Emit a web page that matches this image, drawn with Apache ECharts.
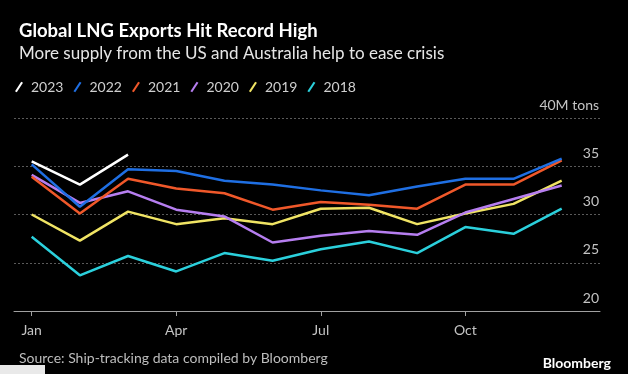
<!DOCTYPE html>
<html>
<head>
<meta charset="utf-8">
<script src="https://cdn.jsdelivr.net/npm/echarts@6/dist/echarts.min.js"></script>
<style>
html,body{margin:0;padding:0;background:#000;}
#c{width:628px;height:374px;}
</style>
</head>
<body>
<div id="c"></div>
<script>
const months = ['Jan','Feb','Mar','Apr','May','Jun','Jul','Aug','Sep','Oct','Nov','Dec'];
const xTickMonths = [0, 3, 6, 9];
const yTicks = [20, 25, 30, 35, 40];
const years = ['2023','2022','2021','2020','2019','2018'];
const s2023 = [35.5, 33.1, 36.2];
const s2022 = [35.2, 30.8, 34.7, 34.5, 33.5, 33.1, 32.5, 32.0, 32.9, 33.7, 33.7, 35.8];
const s2021 = [33.9, 30.1, 33.7, 32.7, 32.2, 30.5, 31.3, 31.0, 30.6, 33.1, 33.1, 35.6];
const s2020 = [34.1, 31.2, 32.4, 30.5, 29.8, 27.1, 27.8, 28.3, 27.9, 30.2, 31.6, 33.0];
const s2019 = [30.0, 27.3, 30.3, 29.0, 29.6, 29.0, 30.6, 30.7, 29.0, 30.1, 31.1, 33.5];
const s2018 = [27.7, 23.7, 25.7, 24.1, 26.0, 25.2, 26.4, 27.2, 26.0, 28.7, 28.0, 30.6];
const seriesValues = [s2023, s2022, s2021, s2020, s2019, s2018];
const colors = ['#ffffff', '#1f6fe3', '#f0582a', '#b67ef0', '#f0e464', '#2bd0dc'];

const chart = echarts.init(document.getElementById('c'));
const FONT = 'Lato';
chart.setOption({
  backgroundColor: '#000',
  animation: false,
  title: [
    {text: 'Global LNG Exports Hit Record High', left: 14, top: 17,
     textStyle: {color: '#fff', fontFamily: FONT, fontWeight: 'bold', fontSize: 18.5}},
    {text: 'More supply from the US and Australia help to ease crisis', left: 14, top: 40,
     textStyle: {color: '#e6e6e6', fontFamily: FONT, fontWeight: 'normal', fontSize: 17}},
    {text: 'Source: Ship-tracking data compiled by Bloomberg', left: 14, top: 346,
     textStyle: {color: '#bdbdbd', fontFamily: FONT, fontWeight: 'normal', fontSize: 14}},
    {text: 'Bloomberg', right: 12, top: 351,
     textStyle: {color: '#fff', fontFamily: FONT, fontWeight: 'bold', fontSize: 14}}
  ],
  legend: {
    left: 10, top: 75,
    data: years,
    icon: 'path://M7,0 L9,1.2 L2,12 L0,10.8 Z',
    itemWidth: 8, itemHeight: 11, itemGap: 10,
    textStyle: {color: '#cfcfcf', fontFamily: FONT, fontSize: 14, padding: [0, 0, 0, 3]}
  },
  grid: {left: 14, right: 28, top: 118, bottom: 63, containLabel: false},
  xAxis: {
    type: 'value', min: -0.367, max: 11.795,
    axisLine: {show: true, onZero: false, lineStyle: {color: '#a0a0a0', width: 1}},
    axisTick: {show: true, customValues: xTickMonths, length: 5, lineStyle: {color: '#a0a0a0'}},
    axisLabel: {customValues: xTickMonths, formatter: v => months[Math.round(v)],
      color: '#c4c4c4', fontFamily: FONT, fontSize: 14, margin: 12},
    splitLine: {show: false}
  },
  yAxis: {
    type: 'value', position: 'right', min: 20, max: 40, interval: 5,
    axisLine: {show: false}, axisTick: {show: false},
    axisLabel: {inside: true, margin: 1, color: '#c4c4c4', fontFamily: FONT, fontSize: 14,
      verticalAlign: 'bottom', padding: [0, 0, 6, 0],
      formatter: v => v === 40 ? '40M tons' : String(v)},
    splitLine: {show: true, lineStyle: {color: '#5a5a5a', type: [2, 2], width: 1}}
  },
  series: years.map((y, i) => ({
    name: y, type: 'line', z: 10 - i,
    data: seriesValues[i].map((v, m) => [m, v]),
    symbol: 'none',
    color: colors[i],
    itemStyle: {color: colors[i]},
    lineStyle: {color: colors[i], width: 2.5}
  })),
  graphic: [
    {type: 'rect', left: 0, top: 365, shape: {width: 45, height: 9}, style: {fill: '#e9e9e9'}}
  ]
});
</script>
</body>
</html>
